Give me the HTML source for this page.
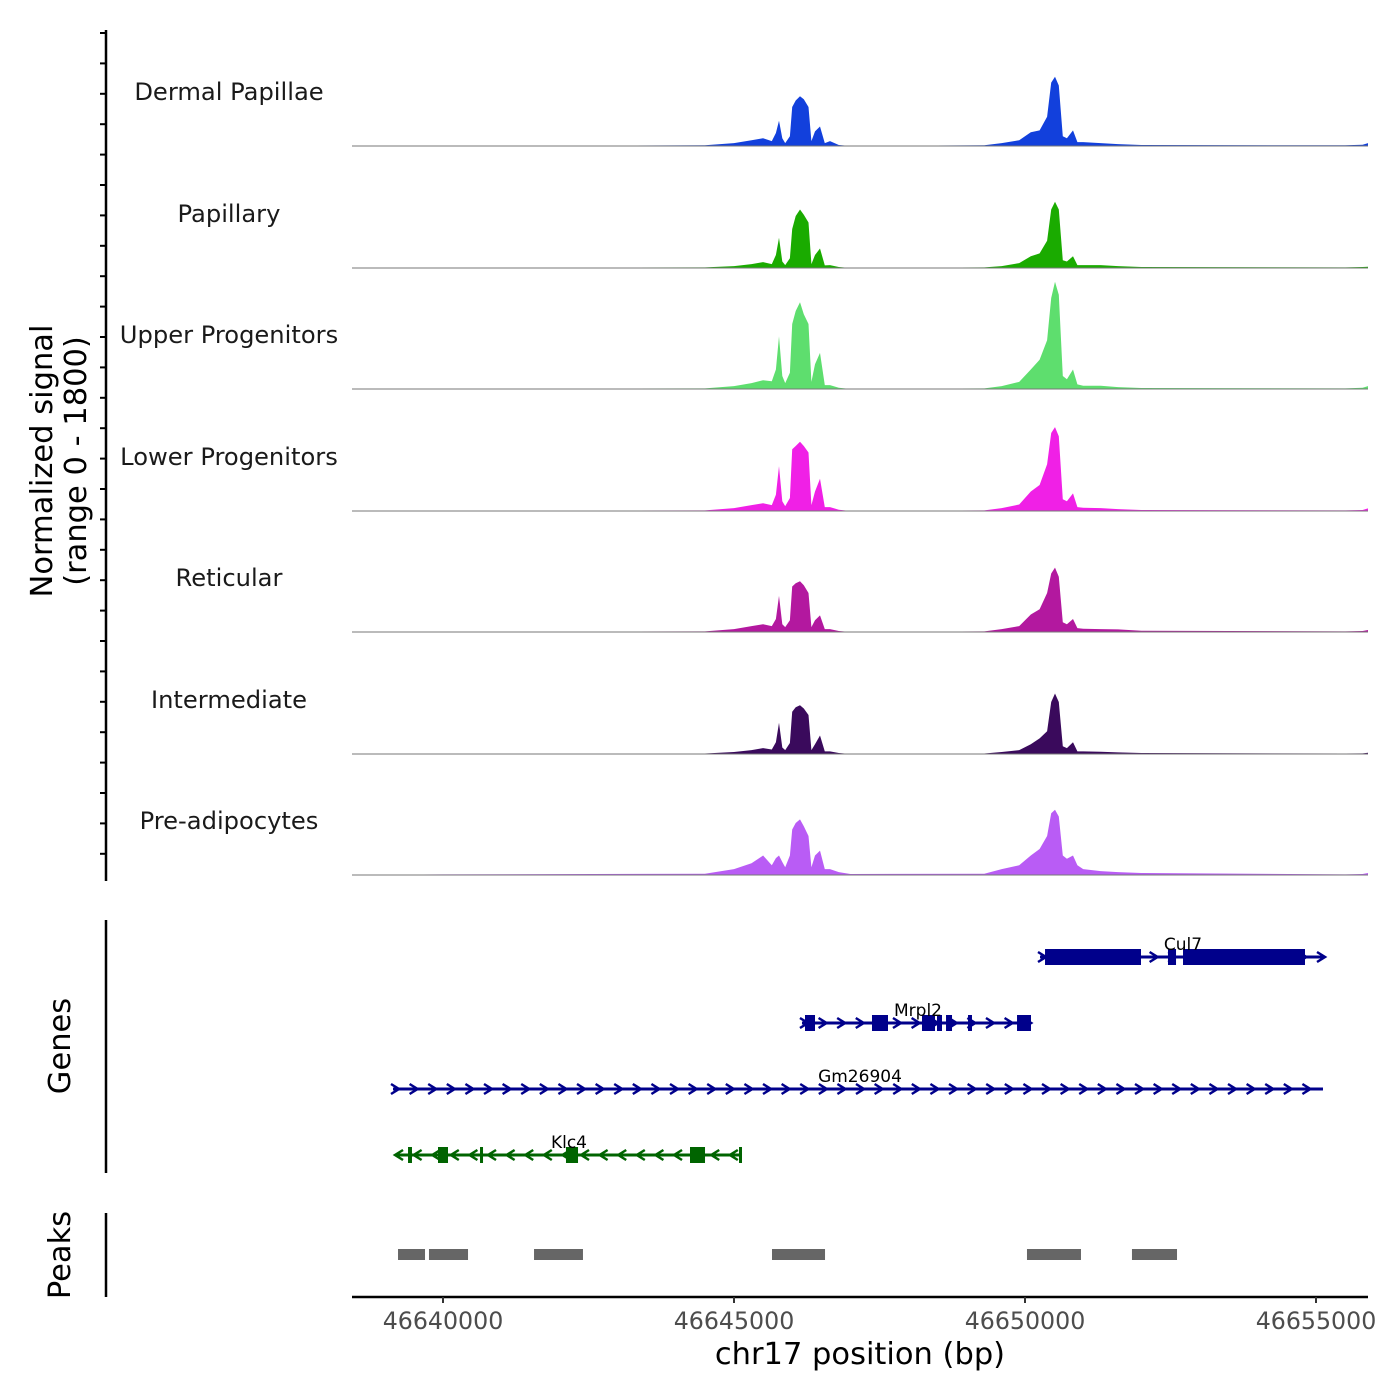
<!DOCTYPE html>
<html><head><meta charset="utf-8"><style>
html,body{margin:0;padding:0;background:#fff;}
svg{display:block;font-family:"DejaVu Sans","Liberation Sans",sans-serif;}
</style></head><body>
<svg id="chart" width="1400" height="1400" viewBox="0 0 1400 1400" xmlns="http://www.w3.org/2000/svg">
<g id="tracks"></g>
<g id="genes"></g>
<g id="peaks"></g>
<g id="axes"></g>
</svg>
<script>
// ---- data ----
const START = 46640000;
const binOffsets = [-1564,0,4500,5000,5300,5500,5650,5720,5773,5830,5880,5960,6000,6060,6134,6200,6280,6330,6392,6478,6560,6650,6800,7000,9300,9600,9900,10100,10250,10380,10450,10515,10580,10650,10720,10825,10900,11000,11300,11600,12000,15500,15800,15893];
const trackNames = ["Dermal Papillae","Papillary","Upper Progenitors","Lower Progenitors","Reticular","Intermediate","Pre-adipocytes"];
const trackColors = ["#1240dc","#1aab00","#5ede6e","#f020e6","#b3189f","#3a0a5c","#b95cf5"];
const sigDP   = [0,0,10,45,90,120,75,200,390,120,45,150,600,700,765,720,600,75,225,300,45,75,15,0,10,45,90,210,240,450,975,1065,930,150,120,240,60,60,45,30,15,10,20,45];
const sigPap  = [0,5,10,30,60,90,60,200,465,100,45,150,600,800,900,820,700,60,200,300,40,45,15,0,10,30,75,180,225,420,900,1020,900,120,100,180,45,45,45,30,15,10,15,20];
const sigUp   = [0,5,10,45,90,135,120,300,810,200,90,250,1000,1200,1335,1150,1000,110,380,555,60,60,20,0,10,45,110,300,450,750,1400,1650,1450,200,150,300,70,50,50,30,15,10,20,45];
const sigLow  = [0,5,10,45,90,120,90,250,690,150,75,200,950,1000,1065,1000,900,90,300,495,60,60,20,0,10,45,100,300,400,720,1200,1290,1150,180,150,270,60,50,45,30,15,10,15,40];
const sigRet  = [0,5,10,45,90,120,90,200,555,120,75,180,700,750,780,720,600,75,180,255,45,45,15,0,10,45,90,270,350,600,900,990,850,150,120,200,60,50,45,40,20,10,15,30];
const sigInt  = [0,0,8,30,60,90,70,180,480,100,60,170,650,720,750,700,600,60,150,285,40,40,15,0,8,30,60,150,240,350,800,930,800,120,90,180,40,40,35,25,15,8,10,20];
const sigPre  = [0,10,20,90,180,300,150,260,300,200,120,300,700,800,855,750,600,120,300,375,90,90,45,15,20,90,150,300,400,600,950,1005,900,300,250,300,150,90,60,45,30,10,15,30];
const signals = [sigDP,sigPap,sigUp,sigLow,sigRet,sigInt,sigPre];

const geneNames = ["Cul7","Mrpl2","Gm26904","Klc4"];
const geneStart = [10258,6168,-859,-790];
const geneEnd   = [15120,10103,15120,5120];
const geneStrand= [1,1,1,-1];
const geneExons = [
  [[10344,11993],[12457,12595],[12715,14811]],
  [[6220,6392],[7371,7646],[8230,8454],[8488,8574],[8643,8746],[9021,9089],[9863,10103]],
  [],
  [[-601,-533],[-86,86],[636,687],[2113,2320],[4244,4502],[5086,5120]]
];
const peakStart = [-773,-241,1564,5653,10034,11838];
const peakEnd   = [-309,430,2405,6564,10962,12612];
const xTicks = [46640000,46645000,46650000,46655000];

// ---- scales ----
const X0=443, PXBP=873/15000;
function xs(off){return X0+off*PXBP;}
const baselines=[146,268,389,511,632,754,875];
const YMAX=1800, TRACKH=117;
function ys(i,v){return baselines[i]-v/YMAX*TRACKH;}
const NS="http://www.w3.org/2000/svg";
function mk(tag,attrs,parent){const e=document.createElementNS(NS,tag);for(const k in attrs)e.setAttribute(k,attrs[k]);parent.appendChild(e);return e;}

// ---- tracks ----
const tg=document.getElementById('tracks');
signals.forEach((s,i)=>{
  let d=`M${xs(binOffsets[0])},${baselines[i]}`;
  s.forEach((v,j)=>{d+=` L${xs(binOffsets[j]).toFixed(1)},${ys(i,v).toFixed(1)}`;});
  d+=` L${xs(binOffsets[binOffsets.length-1])},${baselines[i]} Z`;
  const p=mk('path',{d:d,fill:trackColors[i]},tg);
  
  
  const bl=mk('line',{x1:352,x2:1368,y1:baselines[i],y2:baselines[i],stroke:'#777','stroke-width':1},tg);
  
  
  const t=mk('text',{x:229,y:baselines[i]-46,'text-anchor':'middle','font-size':24.2,fill:'#1a1a1a'},tg);
  t.textContent=trackNames[i];
  
  
});

// ---- genes ----
const gg=document.getElementById('genes');
const geneY=[957,1023,1089,1155];
geneNames.forEach((n,i)=>{
  const col=geneStrand[i]>0?'#00008b':'#006400';
  const x1=xs(geneStart[i]), x2=xs(geneEnd[i]), y=geneY[i];
  const l=mk('line',{x1:x1,x2:x2,y1:y,y2:y,stroke:col,'stroke-width':3},gg);
  
  
  for(let x=x1+2;x<=x2+1;x+=18.6){
    const dx=geneStrand[i]*4;
    const c=mk('polyline',{points:`${x-dx},${y-5} ${x+dx},${y} ${x-dx},${y+5}`,fill:'none',stroke:col,'stroke-width':2.5},gg);
    
    
  }
  geneExons[i].forEach(e=>{
    const r=mk('rect',{x:xs(e[0]),y:y-8,width:Math.max(3,xs(e[1])-xs(e[0])),height:16,fill:col},gg);
    
    
  });
  const t=mk('text',{x:(n==='Cul7'?1183:n==='Mrpl2'?918:n==='Gm26904'?860:569),y:y-7,'text-anchor':'middle','font-size':17,fill:'#000'},gg);
  t.textContent=n;
  
  
});

// ---- peaks ----
const pg=document.getElementById('peaks');
peakStart.forEach((s,i)=>{
  const r=mk('rect',{x:xs(s),y:1249,width:xs(peakEnd[i])-xs(s),height:11,fill:'#666'},pg);
  
  
});

// ---- axes ----
const ag=document.getElementById('axes');
function line(a,name){const e=mk('line',a,ag);return e;}
line({x1:106,x2:106,y1:30,y2:881,stroke:'#000','stroke-width':2.5},'y-axis-line');
for(let y=33;y<=880;y+=30.4){line({x1:100,x2:106,y1:y,y2:y,stroke:'#000','stroke-width':2},'y-axis-tick');}
line({x1:106,x2:106,y1:920,y2:1173,stroke:'#000','stroke-width':2.5},'genes-axis-line');
line({x1:106,x2:106,y1:1213,y2:1297,stroke:'#000','stroke-width':2.5},'peaks-axis-line');
line({x1:352,x2:1368,y1:1297,y2:1297,stroke:'#000','stroke-width':2.5},'x-axis-line');
xTicks.forEach(t=>{
  const x=xs(t-START);
  line({x1:x,x2:x,y1:1297,y2:1303,stroke:'#333','stroke-width':2},'x-axis-tick');
  const tx=mk('text',{x:x,y:1329,'text-anchor':'middle','font-size':23.7,fill:'#4d4d4d'},ag);
  tx.textContent=t;
  
  
});
function txt(s,a,name){const e=mk('text',a,ag);e.textContent=s;}
txt('chr17 position (bp)',{x:860,y:1364,'text-anchor':'middle','font-size':30.5,fill:'#000'},'x-axis-title');
txt('Normalized signal',{x:0,y:0,transform:'translate(52,461) rotate(-90)','text-anchor':'middle','font-size':30.5,fill:'#000'},'y-axis-title');
txt('(range 0 - 1800)',{x:0,y:0,transform:'translate(86,461) rotate(-90)','text-anchor':'middle','font-size':30.5,fill:'#000'},'y-axis-subtitle');
txt('Genes',{x:0,y:0,transform:'translate(70,1046) rotate(-90)','text-anchor':'middle','font-size':30.5,fill:'#000'},'genes-axis-title');
txt('Peaks',{x:0,y:0,transform:'translate(70,1255) rotate(-90)','text-anchor':'middle','font-size':30.5,fill:'#000'},'peaks-axis-title');
</script>
</body></html>
